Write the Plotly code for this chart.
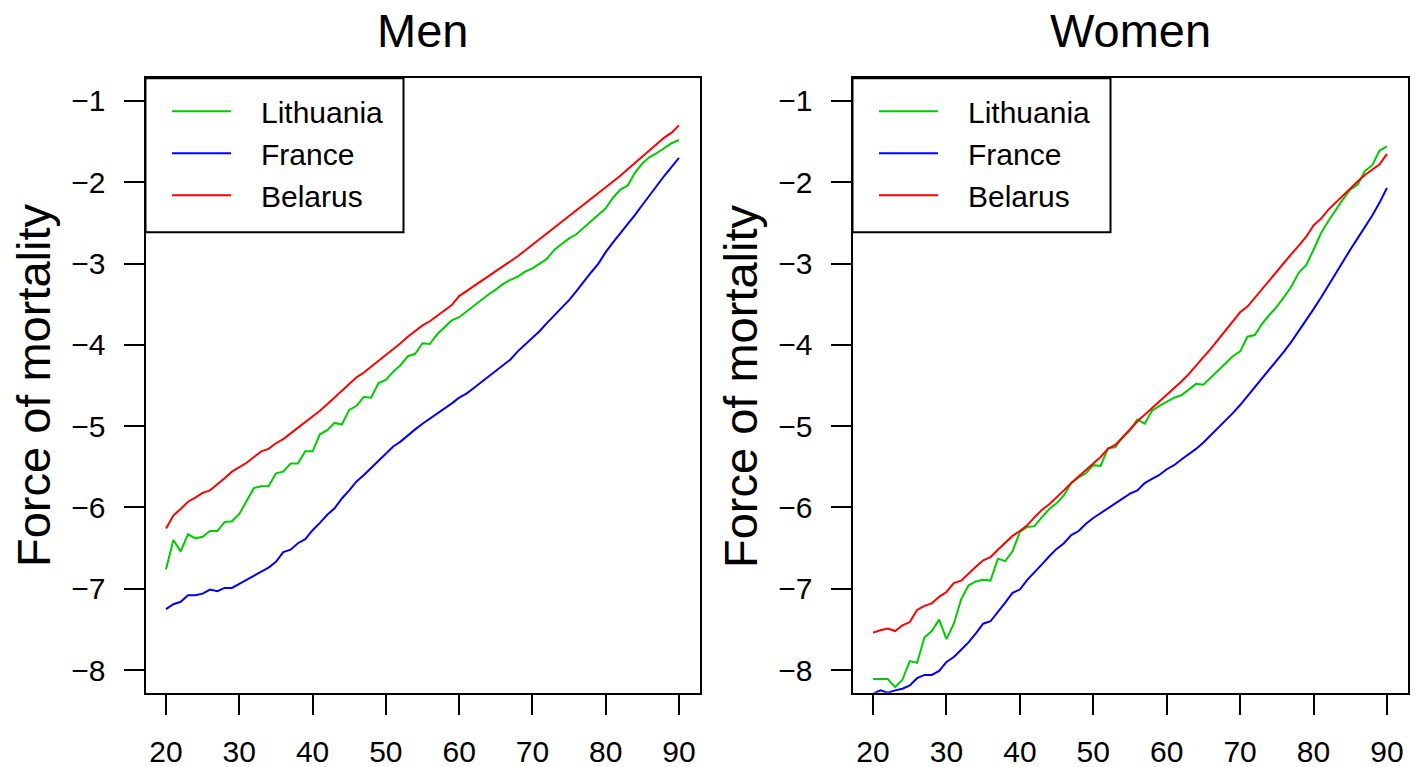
import plotly.graph_objects as go

ages = list(range(20, 91))
countries = ["Lithuania", "France", "Belarus"]
colors = {"Lithuania": "#00CD00", "France": "#0000FF", "Belarus": "#FF0000"}
panel_titles = ["Men", "Women"]
y_label = "Force of mortality"
x_ticks = [20, 30, 40, 50, 60, 70, 80, 90]
y_ticks = [-8, -7, -6, -5, -4, -3, -2, -1]

men_lithuania = [
    -6.76, -6.40, -6.54, -6.33, -6.38, -6.36, -6.29, -6.29, -6.18, -6.17,
    -6.08, -5.92, -5.76, -5.74, -5.74, -5.58, -5.56, -5.46, -5.46, -5.31,
    -5.31, -5.10, -5.05, -4.96, -4.98, -4.80, -4.75, -4.64, -4.65, -4.47,
    -4.43, -4.33, -4.25, -4.14, -4.11, -3.98, -3.99, -3.87, -3.78, -3.70,
    -3.66, -3.59, -3.51, -3.45, -3.38, -3.32, -3.25, -3.20, -3.16, -3.10,
    -3.06, -3.00, -2.94, -2.83, -2.76, -2.69, -2.64, -2.56, -2.48, -2.41,
    -2.32, -2.19, -2.09, -2.04, -1.88, -1.77, -1.69, -1.64, -1.58, -1.52,
    -1.48]
men_france = [
    -7.25, -7.19, -7.16, -7.08, -7.08, -7.06, -7.01, -7.03, -6.99, -6.99,
    -6.94, -6.89, -6.84, -6.80, -6.74, -6.67, -6.55, -6.52, -6.44, -6.39,
    -6.28, -6.19, -6.09, -6.01, -5.89, -5.79, -5.68, -5.60, -5.51, -5.42,
    -5.33, -5.25, -5.19, -5.11, -5.04, -4.97, -4.91, -4.85, -4.79, -4.72,
    -4.65, -4.60, -4.53, -4.46, -4.39, -4.32, -4.25, -4.18, -4.08, -4.00,
    -3.92, -3.83, -3.73, -3.64, -3.55, -3.45, -3.34, -3.22, -3.11, -3.00,
    -2.86, -2.74, -2.63, -2.51, -2.40, -2.28, -2.16, -2.03, -1.92, -1.81,
    -1.70]
men_belarus = [
    -6.26, -6.10, -6.02, -5.93, -5.88, -5.82, -5.79, -5.72, -5.64, -5.56,
    -5.51, -5.45, -5.38, -5.31, -5.28, -5.21, -5.16, -5.09, -5.03, -4.96,
    -4.88, -4.81, -4.73, -4.65, -4.57, -4.49, -4.40, -4.34, -4.27, -4.19,
    -4.12, -4.05, -3.98, -3.90, -3.83, -3.76, -3.71, -3.64, -3.57, -3.51,
    -3.40, -3.34, -3.28, -3.21, -3.16, -3.09, -3.03, -2.97, -2.91, -2.84,
    -2.77, -2.70, -2.63, -2.56, -2.49, -2.42, -2.34, -2.27, -2.20, -2.13,
    -2.06, -1.99, -1.92, -1.84, -1.76, -1.68, -1.60, -1.53, -1.45, -1.39,
    -1.30]

women_lithuania = [
    -8.11, -8.11, -8.11, -8.21, -8.12, -7.89, -7.91, -7.60, -7.52, -7.38,
    -7.62, -7.43, -7.13, -6.96, -6.91, -6.89, -6.90, -6.63, -6.66, -6.54,
    -6.30, -6.24, -6.23, -6.12, -6.02, -5.95, -5.85, -5.70, -5.63, -5.58,
    -5.48, -5.49, -5.27, -5.26, -5.13, -5.05, -4.92, -4.97, -4.81, -4.75,
    -4.70, -4.65, -4.62, -4.55, -4.48, -4.49, -4.40, -4.31, -4.23, -4.14,
    -4.08, -3.90, -3.88, -3.74, -3.63, -3.53, -3.41, -3.28, -3.11, -3.02,
    -2.83, -2.63, -2.48, -2.34, -2.21, -2.09, -2.03, -1.86, -1.79, -1.61,
    -1.56]
women_france = [
    -8.29, -8.25, -8.28, -8.25, -8.23, -8.19, -8.10, -8.06, -8.06, -8.01,
    -7.90, -7.84, -7.75, -7.66, -7.55, -7.43, -7.40, -7.29, -7.17, -7.05,
    -7.01, -6.89, -6.80, -6.70, -6.60, -6.51, -6.44, -6.34, -6.29, -6.20,
    -6.13, -6.07, -6.01, -5.96, -5.90, -5.83, -5.79, -5.70, -5.65, -5.60,
    -5.53, -5.48, -5.41, -5.35, -5.28, -5.20, -5.11, -5.03, -4.94, -4.84,
    -4.74, -4.63, -4.53, -4.42, -4.31, -4.20, -4.08, -3.96, -3.83, -3.70,
    -3.56, -3.42, -3.27, -3.12, -2.98, -2.83, -2.69, -2.55, -2.41, -2.25,
    -2.07]
women_belarus = [
    -7.54, -7.51, -7.49, -7.52, -7.45, -7.41, -7.26, -7.21, -7.18, -7.10,
    -7.04, -6.93, -6.90, -6.81, -6.73, -6.65, -6.61, -6.52, -6.44, -6.35,
    -6.29, -6.22, -6.12, -6.03, -5.96, -5.88, -5.79, -5.70, -5.62, -5.54,
    -5.46, -5.38, -5.28, -5.23, -5.14, -5.04, -4.94, -4.86, -4.78, -4.69,
    -4.62, -4.54, -4.45, -4.36, -4.25, -4.15, -4.05, -3.94, -3.83, -3.72,
    -3.60, -3.53, -3.42, -3.32, -3.20, -3.09, -2.99, -2.88, -2.78, -2.67,
    -2.53, -2.45, -2.34, -2.25, -2.16, -2.08, -1.99, -1.91, -1.85, -1.78,
    -1.65]

men = {"Lithuania": men_lithuania, "France": men_france, "Belarus": men_belarus}
women = {"Lithuania": women_lithuania, "France": women_france, "Belarus": women_belarus}

FONT = "Liberation Sans, Arial, Helvetica, sans-serif"
W, H = 1422, 767
PAD = "\u00a0\u00a0\u00a0"  # gap between legend key line and its label

fig = go.Figure()
for i, panel in enumerate([men, women]):
    xa = "x" if i == 0 else "x2"
    ya = "y" if i == 0 else "y2"
    lg = "legend" if i == 0 else "legend2"
    for c in countries:
        fig.add_trace(go.Scatter(
            x=ages, y=panel[c], mode="lines", name=PAD + c,
            line=dict(color=colors[c], width=2),
            xaxis=xa, yaxis=ya, legend=lg, showlegend=True,
            hoverinfo="skip"))

# plot-region geometry (pixels)
men_x = [145.5, 699.5]
women_x = [852.5, 1407.5]
y_px = [78.2, 692.8]
ydom = [(H - y_px[1]) / H, (H - y_px[0]) / H]
legend_box_w = 258
legend_box_h = 154

axis_common = dict(
    showline=True, mirror=True, linecolor="black", linewidth=2,
    ticks="outside", ticklen=20, tickwidth=2, tickcolor="black",
    showgrid=False, zeroline=False, automargin=False,
    tickfont=dict(family=FONT, size=30, color="black"),
)
xaxis_common = dict(axis_common, range=[17.2, 92.8], tickvals=x_ticks,
                    ticklabelstandoff=11)
yaxis_common = dict(axis_common, range=[-8.28, -0.72], tickvals=y_ticks,
                    ticktext=["\u2212" + str(-v) for v in y_ticks],
                    ticklabelstandoff=12)


def legend_cfg(x0):
    return dict(x=(x0 + 21.5) / W, y=(H - (y_px[0] + 7)) / H,
                xanchor="left", yanchor="top",
                borderwidth=0, bgcolor="rgba(0,0,0,0)",
                font=dict(family=FONT, size=30, color="black"),
                itemwidth=59, tracegroupgap=0)


fig.update_layout(
    width=W, height=H,
    margin=dict(l=0, r=0, t=0, b=0, autoexpand=False),
    paper_bgcolor="white", plot_bgcolor="white",
    xaxis=dict(xaxis_common, domain=[men_x[0] / W, men_x[1] / W], anchor="y"),
    yaxis=dict(yaxis_common, domain=ydom, anchor="x"),
    xaxis2=dict(xaxis_common, domain=[women_x[0] / W, women_x[1] / W], anchor="y2"),
    yaxis2=dict(yaxis_common, domain=ydom, anchor="x2"),
    legend=legend_cfg(men_x[0]),
    legend2=legend_cfg(women_x[0]),
    showlegend=True,
    hovermode=False,
)

annotations = []
shapes = []
for i, t in enumerate(panel_titles):
    xr = men_x if i == 0 else women_x
    annotations.append(dict(
        text=t, xref="paper", yref="paper",
        x=(xr[0] + xr[1]) / 2 / W, y=(H - 31) / H,
        xanchor="center", yanchor="middle", showarrow=False,
        font=dict(family=FONT, size=47, color="black")))
    annotations.append(dict(
        text=y_label, xref="paper", yref="paper",
        x=(xr[0] - 112) / W, y=(ydom[0] + ydom[1]) / 2,
        xanchor="center", yanchor="middle", textangle=-90, showarrow=False,
        font=dict(family=FONT, size=47, color="black")))
    # legend frame (R-style box in the top-left corner of the panel)
    shapes.append(dict(
        type="rect", xref="paper", yref="paper",
        x0=xr[0] / W, x1=(xr[0] + legend_box_w) / W,
        y0=(H - (y_px[0] + legend_box_h)) / H, y1=ydom[1],
        line=dict(color="black", width=2), fillcolor="white", layer="below"))
fig.update_layout(annotations=annotations, shapes=shapes)

fig.write_html("out.html",
               config={"displayModeBar": False},
               post_script="document.body.style.margin='0';"
                           "document.body.style.overflow='hidden';")
